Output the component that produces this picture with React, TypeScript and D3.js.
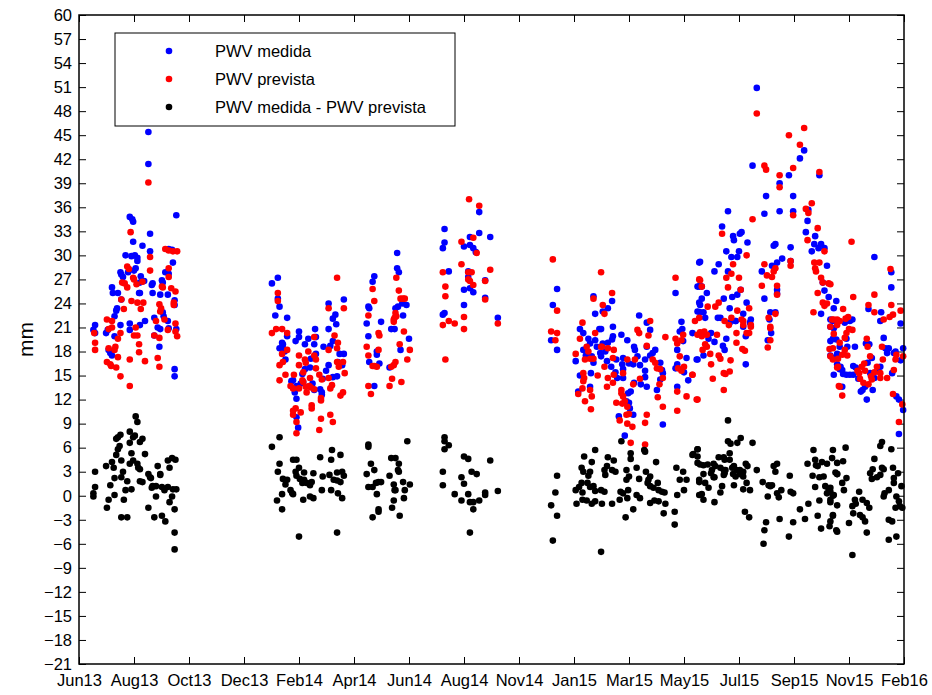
import React, { useEffect, useRef } from "react";
import { select, scaleLinear, axisLeft, axisRight, axisBottom, axisTop, range } from "d3";

// x values are days counted from 1 Jun 2013, y values in mm
const tickLabels = [
  "Jun13", "Aug13", "Oct13", "Dec13", "Feb14", "Apr14", "Jun14", "Aug14",
  "Nov14", "Jan15", "Mar15", "May15", "Jul15", "Sep15", "Nov15", "Feb16"
];
const tickStep = 65; // days between ticks
const seriesNames = ["PWV medida", "PWV prevista", "PWV medida - PWV prevista"];
const seriesColors = ["#0000ff", "#ff0000", "#000000"];

const pwvMedida: [number, number][] = [
  // 2013
  [82,45.4],[82,41.4],[115,35.0],[60,34.8],[63,34.5],[64,34.2],[84,32.7],[64,31.7],[75,31.2],[84,30.5],[55,30.0],[62,29.9],[66,30.0],[69,29.7],[69,29.3],[106,30.8],[110,30.7],[111,29.1],[49,27.9],[50,27.6],[52,27.3],[58,27.9],[67,28.4],[65,28.1],[73,27.4],[77,26.8],[74,26.7],[72,26.6],[87,26.5],[86,26.3],[98,26.9],[99,26.6],[102,27.9],[106,27.7],[39,26.0],[40,25.3],[46,25.3],[72,25.3],[71,25.3],[87,25.3],[96,25.1],[105,25.1],[113,23.8],[113,24.4],[50,24.5],[45,23.4],[44,23.1],[42,22.4],[99,22.9],[100,22.4],[89,22.2],[60,21.5],[60,20.7],[49,21.3],[72,21.3],[78,21.8],[93,21.0],[96,20.8],[105,21.8],[106,20.9],[89,20.0],[19,21.3],[17,20.7],[19,20.3],[34,20.7],[32,20.3],[42,19.9],[35,18.2],[37,17.8],[39,17.5],[95,18.6],[113,15.8],[113,14.9],[115,20.8],
  // Feb14
  [228,26.5],[235,27.2],[235,24.6],[237,23.6],[232,22.5],[246,22.2],[246,19.9],[240,19.1],[241,18.9],[237,18.4],[241,18.4],[243,18.0],[244,17.0],[260,20.5],[256,19.3],[260,19.8],[267,18.9],[271,19.6],[279,20.8],[280,19.8],[278,18.9],[289,18.6],[280,17.7],[274,17.1],[267,15.8],[264,15.2],[273,16.0],[251,14.3],[253,14.4],[257,13.7],[262,14.0],[265,14.2],[255,12.9],[257,12.1],[276,14.0],[278,13.2],[285,13.3],[287,12.9],[287,12.6],[257,9.8],[259,8.5],[295,24.0],[300,22.1],[303,22.6],[304,21.4],[313,24.5],[295,20.8],[300,19.3],[297,18.7],[295,16.3],[288,14.6],[300,14.8],[292,15.6],[308,17.7],[313,17.7],[311,16.3],[306,16.7],[305,14.9],
  // Apr14 - Jun14
  [349,27.4],[347,26.7],[342,23.6],[343,23.4],[340,21.5],[357,21.7],[342,19.9],[352,18.0],[352,17.6],[343,16.7],[355,16.5],[349,13.7],[376,30.3],[376,28.4],[378,27.9],[374,23.4],[377,23.6],[382,24.0],[387,23.8],[383,22.5],[390,19.6],[380,18.2],[373,20.8],[369,20.8],[367,16.0],
  // Aug14
  [473,35.4],[432,33.3],[432,31.6],[430,30.9],[462,32.3],[473,32.8],[486,32.3],[455,31.1],[462,31.3],[466,30.9],[469,30.4],[437,28.0],[460,28.0],[460,27.3],[462,25.9],[455,25.7],[466,25.4],[480,26.9],[480,24.7],[455,23.8],[432,22.8],[430,22.6],[495,22.2],
  // Jan15 - May15
  [565,25.8],[560,23.8],[565,18.2],[558,19.4],[608,24.9],[610,22.7],[619,23.0],[625,23.4],[630,24.3],[631,21.1],[662,22.5],[671,21.6],[675,20.7],[592,20.8],[596,20.3],[615,20.8],[617,20.8],[610,19.4],[612,18.6],[619,19.0],[625,19.1],[630,19.5],[631,19.9],[641,20.1],[648,19.4],[602,19.6],[604,19.0],[596,18.2],[599,17.5],[587,16.8],[606,17.4],[608,16.6],[616,17.8],[622,18.0],[617,17.4],[624,16.8],[629,16.1],[635,17.0],[643,17.2],[642,16.4],[643,14.7],[634,15.4],[643,15.8],[650,16.5],[655,16.4],[660,17.4],[656,18.6],[657,18.2],[671,18.6],[681,18.2],[678,17.8],[675,17.5],[669,17.0],[663,16.3],[669,15.6],[687,16.6],[689,15.7],[690,15.3],[687,14.5],[669,14.8],[671,13.6],[683,13.2],[664,13.9],[656,14.1],[652,13.0],[649,12.8],[647,11.8],[650,11.6],[651,10.9],[655,10.1],[638,9.9],[645,7.5],[636,14.7],[592,15.0],[605,15.3],[604,13.6],[590,13.0],[690,8.9],[705,25.3],[712,21.7],[713,20.8],[714,19.3],[710,20.5],[707,18.2],[705,15.9],[707,16.4],[718,17.2],[715,15.4],[720,14.4],[707,13.6],[730,17.0],[733,29.1],[733,26.1],[733,24.1],[731,23.0],
  // Jul15 - Oct15
  [801,50.9],[857,43.1],[852,42.1],[796,41.2],[839,40.0],[875,40.0],[828,39.0],[812,37.4],[844,37.4],[767,35.5],[810,35.2],[828,35.5],[844,35.5],[862,35.7],[861,34.3],[760,33.6],[859,32.9],[773,32.4],[774,31.9],[781,32.7],[783,32.9],[870,32.4],[790,31.6],[821,31.2],[823,31.4],[841,31.0],[869,31.4],[877,31.4],[874,30.9],[881,30.9],[866,30.5],[765,30.5],[771,29.8],[780,30.5],[778,29.8],[831,29.6],[825,29.1],[819,28.7],[841,29.3],[884,28.7],[734,29.2],[756,28.9],[751,28.0],[767,28.0],[807,28.0],[734,26.2],[736,26.1],[731,26.1],[742,25.3],[825,25.7],[825,25.2],[879,26.6],[881,25.6],[772,24.8],[778,25.1],[782,25.7],[762,24.6],[810,24.6],[886,24.8],[736,24.6],[895,24.3],[734,23.8],[734,22.9],[738,22.9],[740,22.2],[789,24.1],[769,23.4],[785,22.7],[776,21.8],[794,22.0],[817,22.9],[823,22.9],[816,22.0],[877,22.7],[892,23.4],[755,22.2],[758,22.2],[785,21.1],[888,22.0],[891,21.8],
  [725,20.3],[747,20.3],[744,19.6],[751,19.2],[761,18.7],[763,18.2],[731,17.0],[738,17.5],[765,19.6],[769,21.6],[776,21.8],[793,21.6],[788,19.9],[818,20.3],[814,19.4],[788,16.4],[888,21.1],[891,19.6],[888,17.5],[896,17.7],[899,18.6],[900,16.1],
  // Nov15 - Feb16
  [940,29.8],[933,23.3],[948,22.9],[947,21.8],[960,27.9],[960,26.0],[971,21.5],[896,21.8],[892,20.9],[905,21.6],[911,21.8],[914,22.0],[917,18.6],[907,19.6],[908,18.6],[888,19.3],[895,19.5],[891,17.2],[896,16.4],[902,15.7],[915,16.2],[918,16.0],[911,15.1],[915,15.1],[907,15.1],[903,15.2],[899,15.8],[892,15.1],[902,13.6],[930,19.0],[934,18.9],[932,16.6],[935,15.3],[921,14.6],[924,13.0],[926,13.2],[929,13.6],[931,12.0],[938,13.2],[937,17.2],[940,14.7],[945,15.5],[947,16.1],[951,19.7],[953,18.4],[955,17.8],[957,18.4],[961,15.3],[963,17.8],[965,18.0],[969,12.0],[966,12.4],[971,16.9],[974,18.4],[974,10.7],[969,7.7]
];

const pwvPrevista: [number, number][] = [
  // 2013
  [82,39.1],[61,32.9],[102,30.8],[106,30.6],[116,30.5],[111,30.5],[84,29.8],[57,28.6],[59,28.3],[84,28.1],[106,28.4],[64,27.2],[65,27.0],[68,26.4],[75,26.7],[106,27.3],[51,26.6],[54,26.5],[57,26.0],[98,26.1],[99,26.0],[109,25.9],[114,25.5],[50,24.5],[62,24.3],[69,24.1],[76,24.1],[95,23.9],[97,23.4],[96,23.0],[112,24.1],[112,23.8],[53,23.3],[73,23.3],[33,22.0],[39,21.8],[91,21.8],[101,22.0],[114,21.5],[35,20.8],[39,21.0],[67,21.0],[69,20.0],[65,20.0],[49,20.3],[105,20.7],[114,20.5],[116,19.9],[18,20.3],[89,20.0],[95,19.7],[19,19.1],[19,18.2],[46,19.6],[71,18.9],[71,17.9],[43,18.6],[42,18.2],[35,18.4],[33,16.7],[37,16.4],[38,16.2],[44,16.0],[46,17.3],[60,17.0],[78,16.8],[93,17.2],[95,16.1],[49,14.9],[60,13.7],
  // Feb14
  [305,27.2],[235,25.3],[235,24.3],[228,20.3],[233,20.8],[240,20.8],[246,20.3],[295,23.4],[313,23.4],[302,20.0],[306,19.1],[295,18.2],[305,18.4],[278,19.8],[246,18.2],[240,17.7],[237,16.3],[241,16.7],[244,15.1],[237,14.4],[260,17.5],[260,16.3],[267,17.0],[268,16.6],[271,18.0],[265,15.4],[273,14.7],[278,17.5],[280,17.0],[280,15.9],[284,15.1],[287,14.5],[254,15.1],[250,13.7],[253,13.4],[260,13.4],[264,14.4],[265,14.2],[268,13.6],[272,13.7],[274,13.5],[278,13.3],[269,12.9],[295,14.7],[299,13.8],[297,13.4],[305,16.7],[307,16.1],[312,16.7],[314,15.3],[312,12.9],[309,12.5],[286,12.2],[286,11.9],[275,11.3],[275,10.9],[253,10.6],[256,10.9],[262,10.4],[253,10.1],[257,9.2],[257,7.8],[286,9.6],[284,8.2],[297,10.1],[300,9.2],
  // Apr14 - Jun14
  [347,25.8],[349,24.3],[342,22.5],[354,20.3],[355,20.0],[340,18.6],[342,17.5],[349,16.2],[352,16.1],[347,16.2],[342,13.7],[345,12.7],[354,18.2],[375,27.2],[378,25.6],[380,24.6],[383,24.6],[385,24.6],[374,22.8],[372,22.0],[373,22.2],[375,22.4],[372,21.7],[384,20.5],[379,18.9],[391,18.2],[388,17.0],[374,16.7],[372,16.3],[369,16.1],[367,13.7],[370,14.6],[381,14.2],
  // Aug14
  [461,37.0],[473,36.2],[452,31.7],[466,32.2],[470,30.3],[452,28.9],[430,27.9],[460,27.9],[464,27.9],[460,27.0],[462,26.8],[466,26.3],[486,28.2],[480,26.8],[433,26.1],[433,24.9],[480,24.5],[455,22.3],[430,21.3],[437,21.8],[444,21.5],[455,20.8],[495,21.5],[433,17.0],
  // Jan15 - May15
  [560,29.5],[565,23.1],[558,20.5],[565,20.3],[563,19.4],[617,27.9],[608,24.6],[619,23.8],[621,22.7],[630,25.3],[595,21.6],[592,19.6],[587,17.7],[600,18.6],[602,18.0],[598,17.0],[604,17.1],[608,17.1],[610,20.3],[617,18.6],[618,18.6],[625,18.4],[631,17.2],[632,18.2],[621,16.1],[613,15.0],[596,15.3],[597,14.7],[596,14.3],[595,13.4],[590,12.7],[604,13.2],[606,12.4],[598,11.8],[605,10.8],[624,13.6],[632,15.1],[631,14.1],[625,14.7],[641,13.2],[643,15.3],[648,17.0],[657,17.0],[660,20.7],[662,20.3],[671,18.7],[675,21.8],[673,20.0],[678,17.0],[681,16.6],[683,15.9],[687,15.8],[690,14.7],[686,13.9],[684,12.3],[690,11.1],[693,19.8],[635,11.6],[641,12.8],[643,12.4],[645,11.8],[648,11.1],[642,11.5],[650,10.2],[647,10.1],[639,9.4],[648,9.0],[654,8.6],[652,6.6],[669,6.4],[671,10.1],[669,9.1],[655,13.9],[663,14.6],[705,27.2],[705,19.6],[707,19.0],[712,19.4],[714,20.1],[710,17.4],[708,15.9],[712,15.6],[715,16.1],[707,13.0],[707,10.6],[718,12.4],[725,15.1],[730,12.0],[733,27.0],[731,20.1],
  // Jul15 - Oct15
  [801,47.7],[857,45.9],[839,45.0],[852,43.8],[810,41.2],[812,40.7],[844,40.9],[875,40.4],[828,40.0],[828,38.5],[866,36.5],[859,35.8],[862,35.3],[844,35.0],[796,34.5],[873,33.4],[760,32.7],[861,31.9],[881,30.5],[789,30.0],[773,28.9],[810,28.9],[841,29.3],[841,28.7],[869,29.1],[875,29.1],[870,28.4],[871,28.0],[823,28.4],[821,28.0],[819,27.3],[813,27.5],[765,27.2],[780,27.2],[734,26.9],[877,27.2],[879,26.6],[886,26.5],[736,26.1],[767,26.0],[782,25.7],[825,26.2],[825,25.1],[807,26.2],[873,25.3],[743,23.6],[752,23.6],[756,24.1],[771,27.7],[778,23.1],[792,23.4],[879,24.1],[881,23.7],[884,24.0],[823,22.7],[815,22.2],[733,22.2],[868,22.9],[763,21.8],[768,21.3],[771,22.2],[783,22.0],[785,21.3],[794,21.3],[817,21.1],[890,22.0],[896,21.3],[888,21.1],
  [728,21.8],[734,20.4],[739,20.5],[736,19.9],[742,20.1],[754,20.1],[740,18.9],[742,18.6],[737,18.2],[746,17.7],[747,16.4],[756,17.5],[758,17.1],[762,15.3],[764,15.2],[769,15.5],[770,16.9],[777,19.1],[784,18.3],[787,18.1],[789,20.3],[792,20.3],[794,21.1],[777,20.3],[785,21.8],[749,14.6],[762,13.2],[731,12.0],[725,15.1],[817,20.9],[817,19.4],[814,18.5],[897,17.1],[892,20.2],[887,18.3],[891,17.0],[898,13.7],[896,16.0],
  // Nov15 - Feb16
  [913,31.7],[940,25.1],[933,23.8],[940,22.9],[959,28.3],[960,23.8],[958,22.3],[962,22.6],[971,23.1],[888,26.4],[892,22.0],[896,22.0],[899,21.8],[903,23.3],[906,22.1],[909,22.3],[915,24.8],[910,20.8],[914,20.7],[907,20.3],[905,19.7],[899,19.1],[905,18.2],[908,17.5],[891,18.4],[888,17.4],[897,16.1],[899,13.6],[902,12.5],[902,17.6],[931,19.6],[932,18.6],[935,17.4],[920,15.6],[922,15.3],[925,16.1],[928,16.5],[929,15.6],[923,14.6],[927,14.1],[933,13.9],[936,14.9],[937,14.5],[940,15.4],[943,16.1],[947,14.7],[949,18.6],[951,22.0],[950,17.0],[947,15.3],[955,14.7],[963,15.7],[962,12.7],[965,17.0],[966,17.6],[974,17.4],[973,11.4],[969,9.2]
];

const pwvDiferenca: [number, number][] = [
  // 2013
  [67,9.9],[69,9.2],[60,8.0],[66,7.5],[64,7.3],[72,6.7],[75,7.1],[60,6.6],[49,7.6],[46,7.3],[44,7.1],[48,6.2],[46,5.8],[62,5.3],[44,5.1],[78,5.2],[32,3.7],[39,4.2],[41,3.5],[50,4.4],[60,4.0],[64,4.4],[69,4.0],[70,3.5],[72,3.3],[19,3.0],[52,3.0],[42,2.2],[50,2.3],[82,2.7],[84,2.3],[85,2.2],[96,2.7],[96,2.6],[93,3.7],[105,4.4],[110,4.7],[114,4.5],[107,3.5],[57,1.8],[72,1.8],[75,1.7],[37,1.3],[19,1.1],[17,0.3],[17,-0.1],[87,1.2],[86,1.0],[91,1.2],[98,1.1],[101,0.7],[105,1.1],[111,0.8],[115,0.8],[62,0.8],[55,0.7],[42,0.1],[91,-0.1],[110,-0.1],[35,-0.5],[53,-0.5],[107,-0.8],[33,-1.5],[82,-1.5],[113,-1.7],[50,-2.7],[57,-2.7],[89,-2.7],[98,-2.5],[102,-3.2],[113,-4.6],[113,-6.7],
  // Feb14
  [228,6.1],[237,7.3],[237,4.0],[235,3.0],[240,0.2],[234,-0.6],[240,-1.7],[241,2.1],[246,2.0],[244,1.4],[250,0.7],[252,0.3],[253,0.2],[253,4.5],[257,4.5],[256,3.0],[260,3.5],[257,2.5],[266,2.9],[261,2.1],[264,1.6],[266,2.0],[269,1.6],[273,1.3],[275,1.7],[260,-5.1],[265,-0.5],[273,-0.1],[277,-0.3],[277,2.8],[285,4.8],[288,2.4],[287,0.7],[296,2.6],[298,4.5],[298,0.7],[299,5.7],[305,-4.6],[305,2.9],[309,5.1],[313,2.5],[306,0.3],[311,-0.3],[301,2.0],[305,1.9],[309,1.7],[311,3.0],
  // Apr14 - Jun14
  [342,6.4],[342,6.1],[345,4.0],[349,3.2],[340,2.7],[388,6.8],[374,4.7],[378,4.0],[369,4.7],[377,3.2],[378,3.0],[367,2.5],[383,1.7],[391,1.4],[372,1.4],[374,0.7],[357,1.7],[354,1.7],[351,1.6],[342,1.1],[347,1.1],[352,0.2],[385,0.7],[373,0.7],[384,-0.3],[372,-0.6],[354,-1.7],[354,-2.0],[370,-1.5],[379,-2.5],[347,-2.7],
  // Aug14
  [432,7.3],[432,6.8],[437,6.3],[432,5.8],[455,4.9],[460,4.6],[486,4.4],[430,3.0],[464,3.0],[470,2.7],[452,2.3],[455,1.5],[430,1.3],[495,0.6],[444,0.2],[460,0.2],[480,0.4],[480,0.1],[452,-0.6],[462,-0.8],[466,-0.8],[473,-0.6],[466,-1.7],[462,-4.6],
  // Jan15 - May15
  [565,2.5],[563,0.4],[558,-1.2],[565,-2.5],[560,-5.6],[617,-7.0],[641,6.8],[597,4.9],[606,4.2],[610,5.7],[625,4.8],[632,4.4],[652,5.3],[652,4.6],[668,5.7],[669,5.5],[682,4.2],[624,3.7],[594,3.5],[596,3.0],[602,2.5],[604,3.0],[621,3.2],[622,2.6],[630,3.2],[634,3.0],[647,3.2],[650,2.4],[647,2.0],[659,3.5],[662,2.1],[670,3.0],[673,2.0],[675,2.4],[684,1.6],[594,1.6],[591,1.1],[587,0.7],[595,0.4],[601,1.6],[604,1.1],[608,1.2],[610,0.6],[617,0.7],[621,0.5],[588,-1.0],[595,-0.5],[600,-0.6],[606,-1.0],[610,-0.7],[618,-1.0],[630,-1.0],[640,0.5],[643,0.3],[639,-0.5],[648,-0.3],[649,0.7],[659,0.1],[663,-0.3],[672,1.6],[675,1.2],[679,1.0],[685,0.7],[689,0.5],[692,0.4],[675,-0.9],[680,-0.6],[685,-0.7],[693,-1.0],[655,-1.7],[646,-2.7],[691,-2.2],[706,3.5],[714,3.0],[718,2.0],[710,2.0],[715,0.7],[707,0.1],[704,-2.0],[704,-3.6],[731,5.8],[726,5.2],[731,4.1],[733,2.0],[733,0.1],
  // Jul15 - Oct15
  [767,9.4],[767,6.8],[770,6.5],[778,6.6],[782,7.2],[796,6.6],[731,5.8],[725,5.1],[731,4.9],[769,5.3],[756,4.8],[762,4.8],[763,4.5],[734,3.9],[738,3.8],[743,3.9],[750,4.0],[752,3.7],[748,3.2],[758,3.5],[762,3.2],[764,3.2],[769,4.5],[772,3.5],[774,3.7],[777,3.2],[781,3.2],[785,3.0],[788,4.0],[790,3.7],[801,3.2],[738,2.7],[747,2.8],[750,2.3],[762,2.6],[763,2.8],[773,2.7],[776,2.4],[781,2.7],[785,2.4],[733,1.7],[740,1.6],[744,1.0],[751,2.3],[760,1.2],[758,0.4],[774,1.3],[789,1.6],[785,0.8],[793,0.7],[736,0.2],[738,-0.5],[751,-0.8],[787,-2.0],[792,-2.7],[808,1.7],[815,1.3],[817,1.2],[819,1.3],[821,3.7],[825,4.0],[823,3.0],[830,0.7],[825,0.3],[827,-0.2],[814,-0.1],[812,-3.3],[810,-4.3],[809,-6.0],[828,-2.9],[840,2.5],[841,0.5],[844,0.3],[844,-3.3],[839,-5.1],[852,-1.7],[858,-2.9],[862,-1.0],[868,5.7],[870,4.5],[871,3.8],[873,3.7],[878,4.2],[884,4.0],[890,4.7],[894,2.9],[896,2.7],[861,4.0],[867,2.5],[875,2.3],[880,2.4],[870,1.1],[886,0.8],[884,0.3],[888,0.5],[891,0.0],[875,-0.6],[873,-2.5],[877,-4.1],[887,-3.8],[891,-2.5],[895,-4.3],[888,-0.8],[882,1.2],
  // Nov15 - Feb16
  [906,6.0],[891,5.7],[903,4.3],[896,4.1],[896,2.7],[907,2.2],[902,1.6],[888,1.0],[904,0.7],[892,0.1],[888,-0.5],[896,-1.2],[891,-2.4],[888,-3.2],[896,-4.5],[949,6.7],[947,6.2],[940,4.6],[960,5.8],[949,3.5],[938,3.3],[935,2.8],[937,2.1],[943,2.3],[947,2.6],[951,3.3],[962,3.5],[968,2.8],[963,2.2],[963,1.6],[972,1.2],[957,0.7],[952,0.3],[951,-0.1],[966,-0.1],[969,-0.7],[970,-1.3],[965,-1.5],[973,-1.5],[922,0.5],[917,-0.5],[918,-1.0],[914,-1.3],[926,-0.5],[931,-0.9],[934,-1.5],[915,-2.2],[923,-2.4],[929,-3.2],[910,-3.4],[926,-2.7],[957,-3.0],[961,-3.2],[931,-4.6],[957,-5.5],[966,-5.1],[914,-7.4]
];

const App = () => {
  const ref = useRef<SVGSVGElement>(null);

  useEffect(() => {
    const width = 932;
    const height = 695;
    const margin = { top: 15, right: 28, bottom: 31, left: 79 };
    const innerWidth = width - margin.left - margin.right;
    const innerHeight = height - margin.top - margin.bottom;
    const font = "'Liberation Sans', Arial, sans-serif";
    const dotR = 3.3;

    const svg = select(ref.current);
    svg.selectAll("*").remove();

    const xScale = scaleLinear()
      .domain([0, tickStep * (tickLabels.length - 1)])
      .range([0, innerWidth]);
    const yScale = scaleLinear().domain([-21, 60]).range([innerHeight, 0]);

    const g = svg
      .append("g")
      .attr("transform", `translate(${margin.left}, ${margin.top})`);

    const xTicks = tickLabels.map((_, i) => i * tickStep);
    const yTicks = range(-21, 61, 3);

    const bottom = g
      .append("g")
      .attr("transform", `translate(0, ${innerHeight})`)
      .call(
        axisBottom(xScale)
          .tickValues(xTicks)
          .tickSize(-7)
          .tickSizeOuter(0)
          .tickPadding(10)
          .tickFormat((d, i) => tickLabels[i])
      );
    const top = g.append("g").call(
      axisTop(xScale).tickValues(xTicks).tickSize(-7).tickSizeOuter(0).tickFormat(() => "")
    );
    const left = g.append("g").call(
      axisLeft(yScale).tickValues(yTicks).tickSize(-7).tickSizeOuter(0).tickPadding(7)
    );
    const right = g
      .append("g")
      .attr("transform", `translate(${innerWidth}, 0)`)
      .call(axisRight(yScale).tickValues(yTicks).tickSize(-7).tickSizeOuter(0).tickFormat(() => ""));

    [bottom, top, left, right].forEach(a => {
      a.select(".domain").remove();
      a.selectAll("line").attr("stroke", "#000").attr("stroke-width", 1);
      a.selectAll("text")
        .attr("fill", "#000")
        .style("font-family", font)
        .style("font-size", "16.5px");
    });

    // dots, in plotting order: measured, predicted, difference
    [pwvMedida, pwvPrevista, pwvDiferenca].forEach((series, i) => {
      g.append("g")
        .selectAll("circle")
        .data(series)
        .enter()
        .append("circle")
        .attr("cx", d => xScale(d[0]))
        .attr("cy", d => yScale(d[1]))
        .attr("r", dotR)
        .attr("fill", seriesColors[i]);
    });

    // frame
    g.append("rect")
      .attr("width", innerWidth)
      .attr("height", innerHeight)
      .attr("fill", "none")
      .attr("stroke", "#000")
      .attr("stroke-width", 1.5);

    // y label
    svg
      .append("text")
      .attr("transform", `translate(33, ${margin.top + innerHeight / 2}) rotate(-90)`)
      .attr("text-anchor", "middle")
      .style("font-family", font)
      .style("font-size", "21px")
      .text("mm");

    // legend
    const legend = svg.append("g").attr("transform", "translate(115, 33)");
    legend
      .append("rect")
      .attr("width", 340)
      .attr("height", 93)
      .attr("fill", "#fff")
      .attr("stroke", "#000")
      .attr("stroke-width", 1);
    const rows = legend
      .selectAll("g.row")
      .data(seriesNames)
      .enter()
      .append("g")
      .attr("class", "row")
      .attr("transform", (d, i) => `translate(0, ${18 + i * 28})`);
    rows
      .append("circle")
      .attr("cx", 54)
      .attr("r", dotR)
      .attr("fill", (d, i) => seriesColors[i]);
    rows
      .append("text")
      .attr("x", 100)
      .attr("dy", "0.35em")
      .style("font-family", font)
      .style("font-size", "16.5px")
      .text(d => d);
  }, []);

  return (
    <svg
      ref={ref}
      width={932}
      height={695}
      style={{ position: "absolute", left: 0, top: 0, background: "#fff" }}
    />
  );
};

export default App;
